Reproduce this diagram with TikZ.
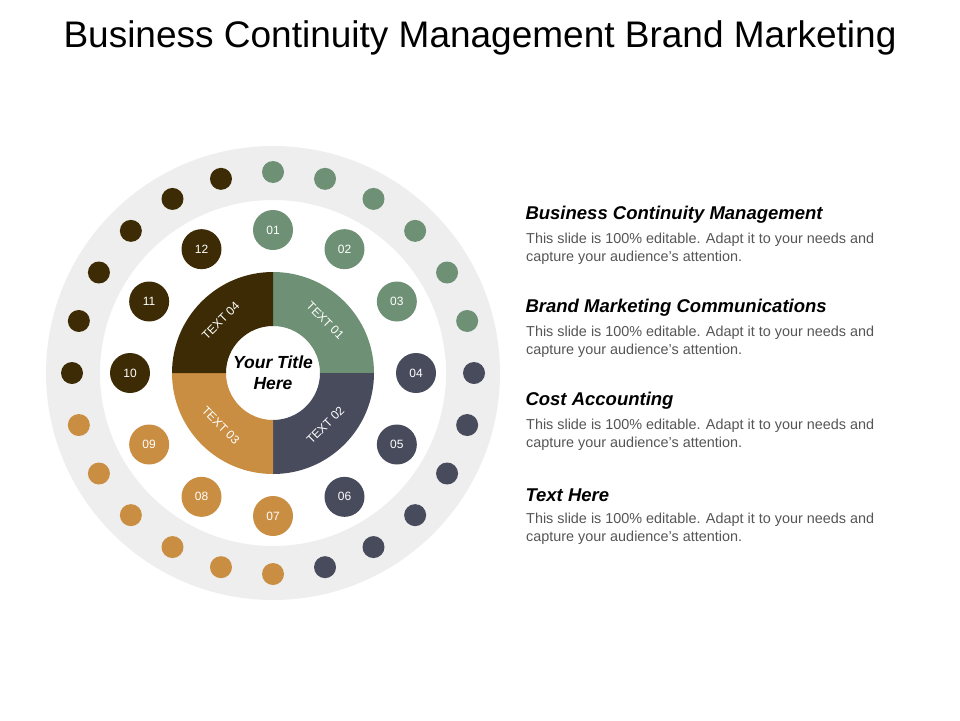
\documentclass[tikz,border=0pt]{standalone}
\usepackage{fontspec}
\setmainfont{Liberation Sans}
\begin{document}
\begin{tikzpicture}[x=1pt,y=1pt,
  dot/.style={circle,inner sep=0pt,minimum size=22pt},
  num/.style={circle,inner sep=0pt,minimum size=40pt,text=white,font=\fontsize{12}{14}\selectfont},
  seg/.style={text=white,inner sep=1pt,font=\fontsize{12}{14}\selectfont},
  head/.style={anchor=west,font=\fontsize{18.5}{22}\selectfont\bfseries\itshape},
  body/.style={anchor=north west,align=left,text=gray1,inner sep=0pt,font=\fontsize{14.4}{18}\selectfont}]
\definecolor{green1}{HTML}{6E9075}
\definecolor{slate1}{HTML}{474B5C}
\definecolor{orange1}{HTML}{C98E42}
\definecolor{brown1}{HTML}{3D2B06}
\definecolor{ring1}{HTML}{EEEEEE}
\definecolor{gray1}{HTML}{555555}
\useasboundingbox (0,-720) rectangle (960,0);
\node[font=\fontsize{37}{42}\selectfont] (title) at (480,-38) {Business Continuity Management Brand Marketing};
\begin{scope}[shift={(273,-373)}]
\fill[ring1,even odd rule] (0,0) circle[radius=227] (0,0) circle[radius=173];
\foreach \i in {0,...,23}{
  \pgfmathtruncatemacro{\q}{int(\i/6)}
  \ifcase\q \def\cl{green1}\or \def\cl{slate1}\or \def\cl{orange1}\or \def\cl{brown1}\fi
  \node[dot,fill=\cl] (d\i) at ({90-15*\i}:201) {};
}
\foreach \k/\t in {1/01,2/02,3/03,4/04,5/05,6/06,7/07,8/08,9/09,10/10,11/11,12/12}{
  \pgfmathtruncatemacro{\q}{int((\k-1)/3)}
  \ifcase\q \def\cl{green1}\or \def\cl{slate1}\or \def\cl{orange1}\or \def\cl{brown1}\fi
  \node[num,fill=\cl] (n\k) at ({90-30*(\k-1)}:143) {\t};
}
\fill[green1] (0:101) arc[start angle=0,end angle=90,radius=101] -- (90:47) arc[start angle=90,end angle=0,radius=47] -- cycle;
\fill[slate1] (-90:101) arc[start angle=-90,end angle=0,radius=101] -- (0:47) arc[start angle=0,end angle=-90,radius=47] -- cycle;
\fill[orange1] (180:101) arc[start angle=180,end angle=270,radius=101] -- (270:47) arc[start angle=270,end angle=180,radius=47] -- cycle;
\fill[brown1] (90:101) arc[start angle=90,end angle=180,radius=101] -- (180:47) arc[start angle=180,end angle=90,radius=47] -- cycle;
\node[seg,rotate=-45] (s1) at (45:74) {TEXT 01};
\node[seg,rotate=45] (s2) at (-45:74) {TEXT 02};
\node[seg,rotate=-45] (s3) at (225:74) {TEXT 03};
\node[seg,rotate=45] (s4) at (135:74) {TEXT 04};
\node[align=center,font=\fontsize{17.5}{21}\selectfont\bfseries\itshape] (ct) at (0,0) {Your Title\\Here};
\end{scope}
\node[head] (h1) at (522,-215) {Business Continuity Management};
\node[body] (b1) at (526,-233) {This slide is 100\% editable. Adapt it to your needs and\\capture your audience's attention.};
\node[head] (h2) at (522,-308) {Brand Marketing Communications};
\node[body] (b2) at (526,-326) {This slide is 100\% editable. Adapt it to your needs and\\capture your audience's attention.};
\node[head] (h3) at (522,-401) {Cost Accounting};
\node[body] (b3) at (526,-419) {This slide is 100\% editable. Adapt it to your needs and\\capture your audience's attention.};
\node[head] (h4) at (522,-495) {Text Here};
\node[body] (b4) at (526,-513) {This slide is 100\% editable. Adapt it to your needs and\\capture your audience's attention.};
\end{tikzpicture}
\end{document}
